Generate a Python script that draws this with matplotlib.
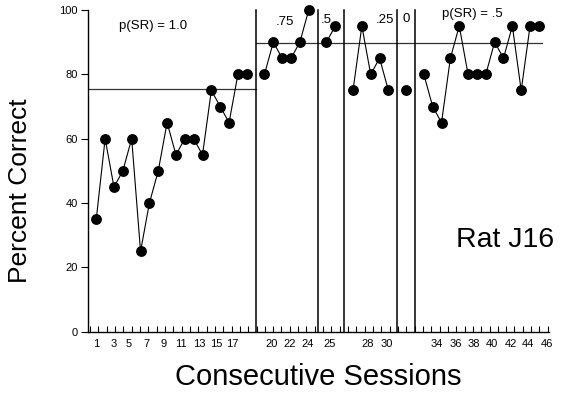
import matplotlib
matplotlib.use("Agg")
import matplotlib.pyplot as plt
import numpy as np

plt.rcParams['font.family'] = ['Liberation Sans', 'DejaVu Sans']

# ---- data ----
phase_names = ["p(SR) = 1.0", ".75", ".5", ".25", "0", "p(SR) = .5"]
phase_values = [
    [35, 60, 45, 50, 60, 25, 40, 50, 65, 55, 60, 60, 55, 75, 70, 65, 80, 80],
    [80, 90, 85, 85, 90, 100],
    [90, 95],
    [75, 95, 80, 85, 75],
    [75],
    [80, 70, 65, 85, 95, 80, 80, 80, 90, 85, 95, 75, 95, 95],
]
mean_line_1 = 75.5   # criterion line phase 1
mean_line_2 = 89.7   # criterion line later phases
tick_labels = ["1", "3", "5", "7", "9", "11", "13", "15", "17",
               "20", "22", "24", "25", "28", "30",
               "34", "36", "38", "40", "42", "44", "46"]
# label positions on the session-slot axis, as printed in the figure
tick_label_pos = [1.0, 3.0, 4.7, 6.7, 8.6, 10.6, 12.6, 14.5, 16.4,
                  20.8, 22.9, 24.9, 27.4, 31.7, 33.8,
                  39.5, 41.6, 43.7, 45.7, 47.8, 49.8, 51.9]
y_ticks = [0, 20, 40, 60, 80, 100]

# ---- figure ----
fig = plt.figure(figsize=(5.7, 3.97), dpi=100)
ax = fig.add_axes([0.154, 0.164, 0.809, 0.811])

slot = 1
boundaries = []
for i, vals in enumerate(phase_values):
    xs = np.arange(slot, slot + len(vals))
    ax.plot(xs, vals, color='black', lw=0.8, marker='o', ms=6.8,
            mfc='black', mec='black', clip_on=False, zorder=3)
    slot += len(vals)
    if i < len(phase_values) - 1:
        boundaries.append(slot)
        slot += 1

for b in boundaries:
    ax.plot([b, b], [0, 100], color='black', lw=1.1, zorder=2, clip_on=False)

ax.plot([0.04, boundaries[0]], [mean_line_1, mean_line_1], color='#333333', lw=0.9, zorder=1)
ax.plot([boundaries[0], 51.3], [mean_line_2, mean_line_2], color='#333333', lw=0.9, zorder=1)

label_pos = [(7.4, 95.0), (22.3, 96.3), (27.0, 97.0), (33.6, 97.0), (36.0, 97.2), (43.5, 98.8)]
for name, (lx, ly) in zip(phase_names, label_pos):
    ax.text(lx, ly, name, ha='center', va='center', fontsize=9.5)

ax.text(47.2, 28.6, "Rat J16", ha='center', va='center', fontsize=20.5)

ax.set_xlim(0.04, 52.13)
ax.set_ylim(0, 100)
ax.spines['top'].set_visible(False)
ax.spines['right'].set_visible(False)
ax.spines['left'].set_linewidth(1.0)
ax.spines['bottom'].set_linewidth(1.0)

ax.set_yticks(y_ticks)
ax.set_yticklabels([str(v) for v in y_ticks], fontsize=8)
ax.tick_params(axis='y', direction='out', length=5, width=0.8, pad=2)

ax.set_xticks(tick_label_pos)
ax.set_xticklabels(tick_labels, fontsize=8)
ax.tick_params(axis='x', which='major', length=0, pad=5)
ax.set_xticks(np.arange(0.3, 52.2, 0.94), minor=True)
ax.tick_params(axis='x', which='minor', direction='in', length=4, width=0.8)

ax.set_ylabel("Percent Correct", fontsize=19)
ax.yaxis.set_label_coords(-0.12, 0.44)
ax.set_xlabel("Consecutive Sessions", fontsize=21, labelpad=10)

fig.savefig("out.png", dpi=100)
